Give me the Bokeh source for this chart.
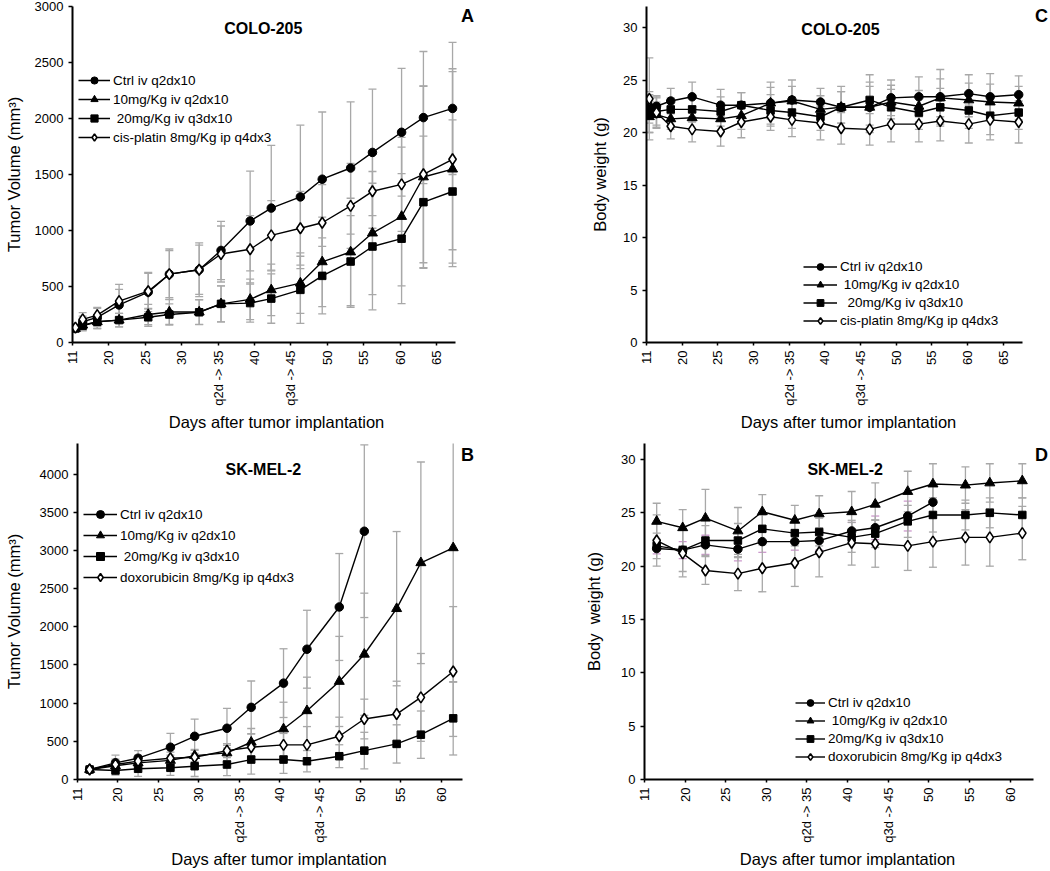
from bokeh.plotting import figure
from bokeh.models import (Range1d, FixedTicker, Legend, LegendItem, Label)
from bokeh.layouts import column, row
from bokeh.embed import file_html
from bokeh.resources import INLINE
import math

FONT = "Liberation Sans"

# ---------------- data ----------------
days_AC = [15.4, 16.4, 18.4, 21.4, 25.4, 28.3, 32.4, 35.4, 39.4, 42.3, 46.3, 49.3, 53.2, 56.2, 60.2, 63.2, 67.2]
days_BD = [16.5, 19.7, 22.5, 26.5, 29.5, 33.5, 36.5, 40.5, 43.4, 47.4, 50.5, 54.5, 57.5, 61.5]

ticks_AC = [15, 20, 25, 30, 35, 40, 45, 50, 55, 60, 65]
ticks_BD = [15, 20, 25, 30, 35, 40, 45, 50, 55, 60]
tick_overrides = {15: "11", 35: "q2d -> 35", 45: "q3d -> 45"}

# Panel A: COLO-205 tumor volume
ctrl_A = [130, 185, 225, 335, 450, 610, 650, 822, 1085, 1200, 1300, 1458, 1558, 1697, 1877, 2008, 2090]
ctrl_A_err = [20, 50, 80, 140, 175, 225, 240, 260, 445, 560, 640, 600, 590, 565, 570, 590, 590]
t10_A = [125, 155, 185, 200, 250, 272, 272, 345, 385, 470, 530, 720, 808, 977, 1125, 1478, 1548]
t10_A_err = [20, 45, 60, 60, 90, 110, 110, 160, 180, 230, 270, 400, 480, 550, 620, 810, 870]
s20_A = [125, 150, 185, 200, 225, 250, 270, 345, 352, 392, 470, 595, 723, 857, 927, 1253, 1348]
s20_A_err = [20, 45, 60, 60, 80, 95, 110, 160, 170, 220, 300, 340, 410, 565, 580, 590, 640]
cis_A = [133, 206, 244, 369, 458, 610, 650, 790, 832, 956, 1020, 1069, 1220, 1350, 1412, 1502, 1636]
cis_A_err = [25, 60, 70, 150, 160, 210, 220, 250, 300, 310, 330, 340, 380, 330, 420, 790, 808]

# Panel C: COLO-205 body weight
ctrl_C = [22.4, 22.5, 23.0, 23.4, 22.6, 22.6, 22.8, 23.1, 22.9, 22.4, 22.4, 23.3, 23.4, 23.4, 23.7, 23.4, 23.6]
ctrl_C_err = [1.5, 1.0, 1.2, 1.4, 1.5, 1.2, 2.0, 1.9, 1.3, 2.0, 2.4, 1.7, 1.9, 2.6, 1.8, 2.2, 1.8]
t10_C = [21.5, 21.7, 21.3, 21.4, 21.3, 21.6, 22.8, 23.0, 22.2, 22.4, 22.4, 22.9, 22.5, 23.3, 23.1, 22.9, 22.8]
t10_C_err = [1.5, 1.2, 1.0, 1.1, 1.2, 1.3, 1.5, 1.4, 1.3, 1.5, 2.0, 1.6, 1.5, 1.8, 1.6, 1.7, 1.6]
s20_C = [21.8, 22.0, 22.2, 22.2, 22.0, 22.6, 22.1, 21.9, 21.5, 22.4, 23.1, 22.4, 21.9, 22.4, 22.1, 21.6, 21.9]
s20_C_err = [1.8, 1.3, 1.1, 1.2, 1.4, 1.2, 1.5, 1.5, 1.3, 1.5, 2.4, 1.7, 1.6, 1.8, 1.7, 1.8, 1.6]
cis_C = [23.2, 21.9, 20.6, 20.3, 20.1, 21.0, 21.5, 21.2, 20.9, 20.4, 20.3, 20.8, 20.8, 21.1, 20.8, 21.2, 21.0]
cis_C_err = [3.9, 1.5, 1.2, 1.2, 1.4, 1.5, 1.3, 1.6, 1.6, 1.5, 1.5, 1.7, 1.7, 1.9, 1.8, 1.9, 2.0]

# Panel B: SK-MEL-2 tumor volume
ctrl_B = [131, 218, 279, 423, 566, 671, 945, 1262, 1706, 2259, 3251]
ctrl_B_err = [30, 100, 100, 180, 225, 260, 345, 450, 510, 700, 1130]
t10_B = [131, 180, 218, 250, 313, 348, 488, 662, 900, 1284, 1640, 2237, 2838, 3034]
t10_B_err = [30, 60, 70, 70, 80, 100, 180, 350, 440, 590, 800, 1010, 1320, 1760]
s20_B = [131, 118, 140, 153, 174, 196, 261, 261, 239, 305, 378, 466, 587, 801]
s20_B_err = [30, 60, 100, 100, 135, 145, 190, 180, 140, 150, 240, 250, 310, 480]
dox_B = [131, 196, 240, 279, 292, 378, 423, 453, 453, 566, 792, 857, 1075, 1414]
dox_B_err = [30, 70, 80, 80, 90, 90, 170, 150, 240, 250, 260, 430, 575, 850]

# Panel D: SK-MEL-2 body weight
ctrl_D = [21.65, 21.5, 22.0, 21.6, 22.3, 22.3, 22.4, 23.3, 23.6, 24.7, 26.0]
ctrl_D_err = [0.5, 0.8, 0.9, 1.1, 1.0, 0.8, 0.9, 0.8, 1.1, 1.4, 1.5]
t10_D = [24.2, 23.6, 24.5, 23.3, 25.1, 24.3, 24.9, 25.1, 25.8, 27.0, 27.7, 27.6, 27.8, 28.0]
t10_D_err = [1.7, 1.7, 2.7, 2.2, 1.6, 1.4, 1.7, 1.9, 2.0, 1.9, 1.9, 1.7, 1.8, 1.6]
s20_D = [21.9, 21.5, 22.4, 22.4, 23.5, 23.1, 23.2, 22.7, 23.05, 24.2, 24.8, 24.8, 25.0, 24.8]
s20_D_err = [1.2, 2.0, 1.4, 1.6, 1.3, 1.2, 1.3, 1.4, 1.3, 1.5, 1.6, 1.4, 1.4, 1.6]
dox_D = [22.4, 21.2, 19.6, 19.3, 19.8, 20.3, 21.3, 22.2, 22.1, 21.9, 22.3, 22.7, 22.7, 23.1]
dox_D_err = [2.4, 2.2, 1.3, 1.6, 2.2, 2.2, 2.3, 2.1, 2.2, 2.3, 2.4, 2.6, 2.7, 2.5]

labels_A = ["Ctrl iv q2dx10", "10mg/Kg iv q2dx10", "\u00a020mg/Kg iv q3dx10", "cis-platin 8mg/Kg ip q4dx3"]
labels_C = ["Ctrl iv q2dx10", "\u00a010mg/Kg iv q2dx10", "\u00a0\u00a020mg/Kg iv q3dx10", "cis-platin 8mg/Kg ip q4dx3"]
labels_B = ["Ctrl iv q2dx10", "10mg/Kg iv q2dx10", "\u00a020mg/Kg iv q3dx10", "doxorubicin 8mg/Kg ip q4dx3"]
labels_D = ["Ctrl iv q2dx10", "\u00a010mg/Kg iv q2dx10", "20mg/Kg iv q3dx10", "doxorubicin 8mg/Kg ip q4dx3"]

ERR = "#a8a8a8"
MARKERS = [
    dict(marker="circle", size=8.5, fill_color="black", line_color="black", line_width=1),
    dict(marker="triangle", size=10, fill_color="black", line_color="black", line_width=1),
    dict(marker="square", size=7.5, fill_color="black", line_color="black", line_width=1),
    dict(marker="diamond", size=11, fill_color="white", line_color="black", line_width=1.6),
]


def make_panel(frame, borders, xr, xbounds, yr, xticks, yticks, ylabel, title, title_xy,
               letter, letter_xy, days, series, errs, err_colors, labels, leg):
    fw, fh = frame
    left, right, top, bottom, ystand = borders
    p = figure(frame_width=fw, frame_height=fh, output_backend="svg", toolbar_location=None,
               x_range=Range1d(*xr), y_range=Range1d(*yr),
               min_border_left=left, min_border_right=right,
               min_border_top=top, min_border_bottom=bottom)
    p.outline_line_color = None
    p.xgrid.visible = False
    p.ygrid.visible = False
    p.background_fill_alpha = 0
    p.border_fill_alpha = 0

    p.xaxis.ticker = FixedTicker(ticks=xticks)
    p.xaxis.bounds = xbounds
    p.xaxis.major_label_overrides = tick_overrides
    p.xaxis.major_label_orientation = math.pi / 2
    p.yaxis.ticker = FixedTicker(ticks=yticks)
    p.xaxis.axis_label = "Days after tumor implantation"
    p.yaxis.axis_label = ylabel
    for ax in list(p.xaxis) + list(p.yaxis):
        ax.axis_line_width = 2
        ax.axis_line_color = "black"
        ax.major_tick_line_width = 1.5
        ax.major_tick_line_color = "black"
        ax.major_tick_out = 4
        ax.major_tick_in = 0
        ax.minor_tick_line_color = None
        ax.major_label_text_font = FONT
        ax.major_label_text_font_size = "13px"
        ax.major_label_text_color = "black"
        ax.axis_label_text_font = FONT
        ax.axis_label_text_font_size = "16.5px"
        ax.axis_label_text_font_style = "normal"
        ax.axis_label_text_color = "black"
    p.xaxis.major_tick_out = 3
    p.xaxis.axis_label_standoff = 4
    p.xaxis.major_label_standoff = 5
    p.yaxis.axis_label_standoff = ystand

    # error bars first (beneath)
    for vals, ev, ec in zip(series, errs, err_colors):
        x = days[:len(vals)]
        lo = [v - e for v, e in zip(vals, ev)]
        hi = [v + e for v, e in zip(vals, ev)]
        p.segment(x0=x, y0=lo, x1=x, y1=hi, line_color=ERR, line_width=1.3)
        p.scatter(x=x, y=hi, marker="dash", size=8, line_color=ec, line_width=1.3)
        p.scatter(x=x, y=lo, marker="dash", size=8, line_color=ec, line_width=1.3)

    items = []
    for vals, mk, lab in zip(series, MARKERS, labels):
        x = days[:len(vals)]
        lr = p.line(x=x, y=vals, line_color="black", line_width=1.4)
        sr = p.scatter(x=x, y=vals, **mk)
        items.append(LegendItem(label=lab, renderers=[lr, sr]))

    lx, ly, lh, gw = leg
    legend = Legend(items=items, location=(lx, ly), padding=0, margin=0, spacing=1,
                    label_height=lh, glyph_height=lh, glyph_width=gw, label_standoff=3,
                    label_text_font=FONT, label_text_font_size="13.5px",
                    label_text_color="black", border_line_color=None,
                    background_fill_alpha=0)
    p.add_layout(legend)

    p.add_layout(Label(x=title_xy[0], y=title_xy[1], text=title, text_font=FONT,
                       text_font_size="16px", text_font_style="bold",
                       text_align="center", text_baseline="middle", text_color="black"))
    p.add_layout(Label(x=letter_xy[0], y=letter_xy[1], text=letter, text_font=FONT,
                       text_font_size="18px", text_font_style="bold",
                       text_align="center", text_baseline="middle", text_color="black"))
    return p


pA = make_panel((408, 336), (72, 0, 6, 91, 9), (15, 71.04), (15, 67.6), (0, 3000), ticks_AC,
                [0, 500, 1000, 1500, 2000, 2500, 3000], "Tumor Volume (mm\u00b3)",
                "COLO-205", (41.2, 2804), "A", (69.26, 2911), days_AC,
                [ctrl_A, t10_A, s20_A, cis_A], [ctrl_A_err, t10_A_err, s20_A_err, cis_A_err],
                [ERR] * 4, labels_A, (6, 196, 18, 32))

pC = make_panel((404, 336), (166, 0, 6, 91, 11), (15, 71.66), (15, 67.7), (0, 32), ticks_AC,
                [0, 5, 10, 15, 20, 25, 30], "Body weight (g)",
                "COLO-205", (42.2, 29.8), "C", (70.4, 31.05), days_AC,
                [ctrl_C, t10_C, s20_C, cis_C], [ctrl_C_err, t10_C_err, s20_C_err, cis_C_err],
                [ERR] * 4, labels_C, (157, 13, 17, 34))

pB = make_panel((403, 336), (77, 0, 10, 90, 14), (15, 64.88), (15, 62.65), (0, 4400), ticks_BD,
                [0, 500, 1000, 1500, 2000, 2500, 3000, 3500, 4000], "Tumor Volume (mm\u00b3)",
                "SK-MEL-2", (38.0, 4060), "B", (63.27, 4243), days_BD,
                [ctrl_B, t10_B, s20_B, dox_B], [ctrl_B_err, t10_B_err, s20_B_err, dox_B_err],
                [ERR] * 4, labels_B, (6, 192, 20, 34))

pD = make_panel((406, 336), (164, 0, 10, 90, 15), (15, 64.97), (15, 62.88), (0, 31.5), ticks_BD,
                [0, 5, 10, 15, 20, 25, 30], "Body\u00a0 weight (g)",
                "SK-MEL-2", (39.7, 29.06), "D", (63.86, 30.4), days_BD,
                [ctrl_D, t10_D, s20_D, dox_D], [ctrl_D_err, t10_D_err, s20_D_err, dox_D_err],
                ["#cc99cc", ERR, ERR, ERR], labels_D, (151, 14, 17, 30))

layout = column(row(pA, pC), row(pB, pD))
open("out.html", "w").write(file_html(layout, INLINE))
